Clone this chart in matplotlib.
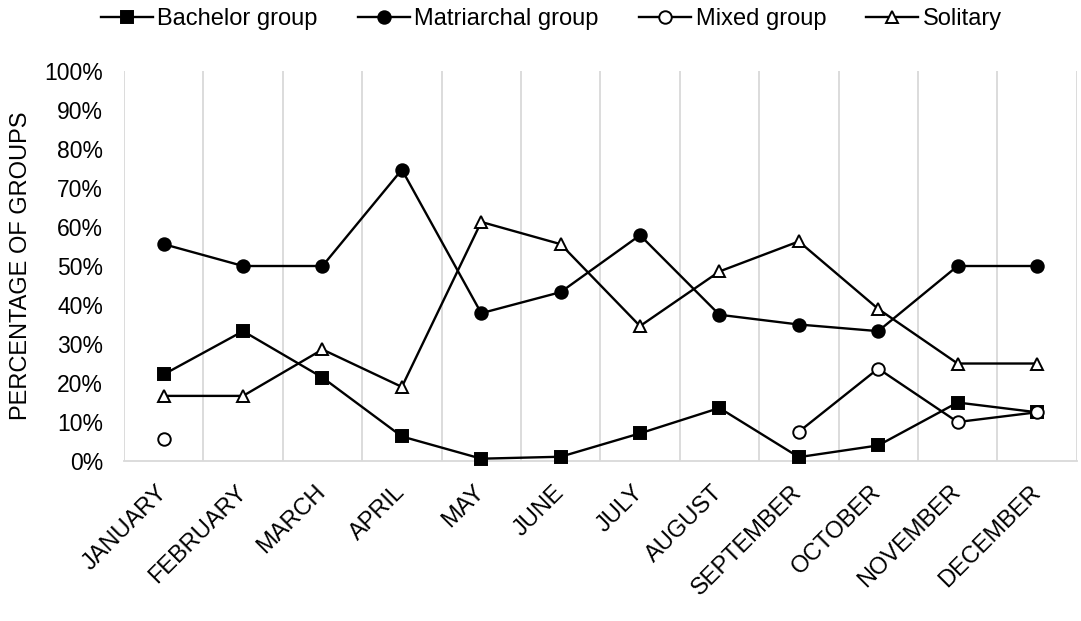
import numpy as np
import matplotlib
matplotlib.use("Agg")
import matplotlib.pyplot as plt

plt.rcParams['font.family'] = ['Liberation Sans', 'DejaVu Sans']

months = ['JANUARY', 'FEBRUARY', 'MARCH', 'APRIL', 'MAY', 'JUNE', 'JULY',
          'AUGUST', 'SEPTEMBER', 'OCTOBER', 'NOVEMBER', 'DECEMBER']

bachelor = [22.2, 33.3, 21.4, 6.3, 0.6, 1.1, 7.1, 13.6, 1.0, 4.0, 15.0, 12.5]
matriarchal = [55.6, 50.0, 50.0, 74.7, 37.9, 43.3, 57.9, 37.5, 35.0, 33.3, 50.0, 50.0]
mixed = [5.6, None, None, None, None, None, None, None, 7.5, 23.7, 10.0, 12.5]
solitary = [16.7, 16.7, 28.6, 19.0, 61.3, 55.6, 34.6, 48.6, 56.3, 39.0, 25.0, 25.0]

series = [
    ('Bachelor group', bachelor, 's', 'black'),
    ('Matriarchal group', matriarchal, 'o', 'black'),
    ('Mixed group', mixed, 'o', 'white'),
    ('Solitary', solitary, '^', 'white'),
]

fig = plt.figure(figsize=(10.81, 6.21), dpi=100)
ax = fig.add_axes([0.1147, 0.2576, 0.8813, 0.6281])

x = np.arange(len(months))
for name, vals, marker, face in series:
    y = np.array([np.nan if v is None else v for v in vals], dtype=float)
    ax.plot(x, y, color='black', lw=1.7, marker=marker, markersize=9,
            markerfacecolor=face, markeredgecolor='black', markeredgewidth=1.4,
            label=name, clip_on=False, zorder=3)

ax.set_xlim(-0.5, len(months) - 0.5)
ax.set_ylim(0, 100)
ax.set_yticks(np.arange(0, 101, 10))
ax.set_yticklabels([f'{v}%' for v in range(0, 101, 10)], fontsize=16.5)

# vertical gridlines sit on the category boundaries
ax.set_xticks(np.arange(-0.5, len(months)), minor=True)
ax.grid(axis='x', which='minor', color='#d9d9d9', lw=1.3)
ax.set_xticks(x)
ax.set_xticklabels(months, rotation=45, ha='right', va='center',
                   rotation_mode='anchor', fontsize=17)
ax.tick_params(axis='x', which='both', length=0, pad=20)
ax.tick_params(axis='y', length=0, pad=15)

for s in ['top', 'right', 'left']:
    ax.spines[s].set_visible(False)
ax.spines['bottom'].set_color('#d9d9d9')
ax.spines['bottom'].set_linewidth(1.3)

ax.set_ylabel('PERCENTAGE OF GROUPS', fontsize=17)
ax.yaxis.set_label_coords(-0.097, 0.5)

fig.legend(loc='center', bbox_to_anchor=(0.51, 1 - 19 / 621), ncol=4,
           frameon=False, fontsize=17, handlelength=2.2, handletextpad=0.2,
           columnspacing=1.7, borderaxespad=0.0)

fig.savefig('out.png', dpi=100)
